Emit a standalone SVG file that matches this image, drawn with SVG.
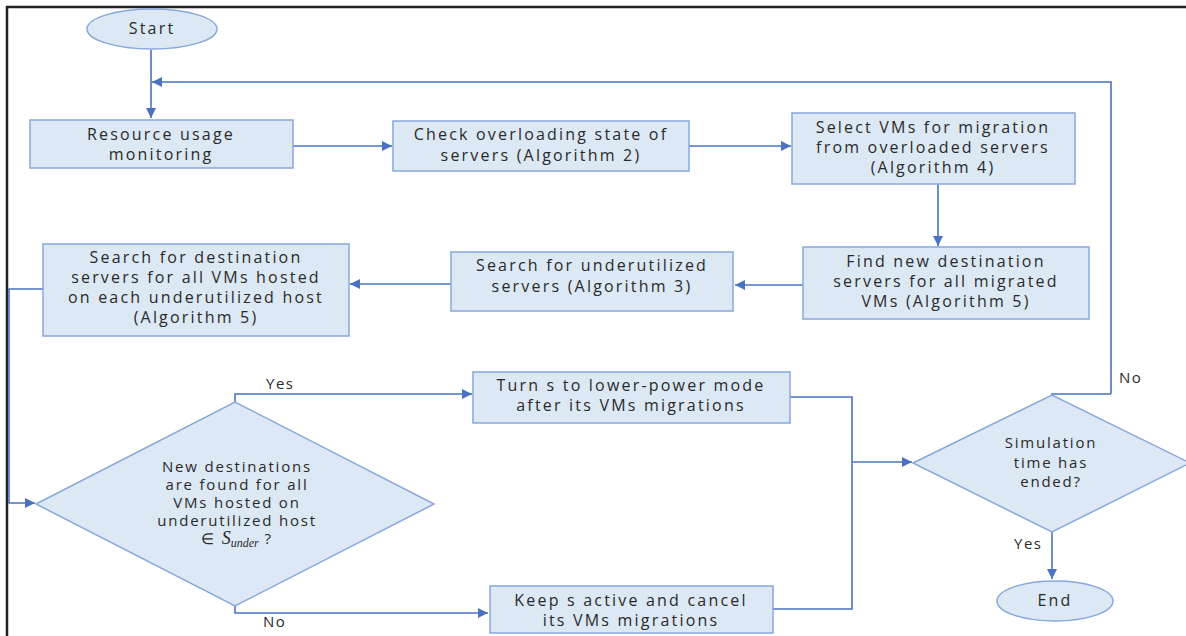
<svg xmlns="http://www.w3.org/2000/svg" width="1186" height="636" viewBox="0 0 1186 636">
  <style>
    .box { fill: #dde8f5; stroke: #86a8dc; stroke-width: 1.5; }
    .wire { fill: none; stroke: #4a72c0; stroke-width: 1.6; }
    .t { font-family: "Open Sans", "Liberation Sans", sans-serif; font-size: 16px; fill: #2a2a2a; text-anchor: middle; letter-spacing: 2.2px; }
    .d { font-size: 15px; letter-spacing: 1.8px; }
    .lbl { font-family: "Open Sans", "Liberation Sans", sans-serif; font-size: 15px; fill: #2a2a2a; letter-spacing: 1.5px; }
    .m { font-family: "Liberation Serif", serif; font-style: italic; letter-spacing: 0; }
  </style>
  <defs>
    <marker id="arr" viewBox="0 0 10 10" refX="10" refY="5" markerWidth="10" markerHeight="10" markerUnits="userSpaceOnUse" orient="auto">
      <path d="M0,0 L10,5 L0,10 z" fill="#4a72c0"/>
    </marker>
  </defs>

  <rect width="1186" height="636" fill="#fff"/>
  <!-- page frame -->
  <path d="M7,636 V7 H1186" fill="none" stroke="#222" stroke-width="2.5"/>

  <g id="connectors">
    <path class="wire" d="M151,50 V118" marker-end="url(#arr)"/>
    <path class="wire" d="M1111,394 V82 H152" marker-end="url(#arr)"/>
    <path class="wire" d="M1052,395 V394 H1111"/>
    <path class="wire" d="M293,146 H392" marker-end="url(#arr)"/>
    <path class="wire" d="M689,146 H791" marker-end="url(#arr)"/>
    <path class="wire" d="M938,184 V246" marker-end="url(#arr)"/>
    <path class="wire" d="M803,285 H735" marker-end="url(#arr)"/>
    <path class="wire" d="M451,284 H350" marker-end="url(#arr)"/>
    <path class="wire" d="M43,289 H9 V503 H35" marker-end="url(#arr)"/>
    <path class="wire" d="M235,402 V394 H472" marker-end="url(#arr)"/>
    <path class="wire" d="M235,606 V613 H488" marker-end="url(#arr)"/>
    <path class="wire" d="M790,397 H852 V609 H773"/>
    <path class="wire" d="M852,462 H912" marker-end="url(#arr)"/>
    <path class="wire" d="M1052,532 V579" marker-end="url(#arr)"/>
  </g>

  <g id="start">
    <ellipse class="box" cx="152" cy="29" rx="65" ry="20"/>
    <text class="t" x="152" y="34">Start</text>
  </g>

  <g id="monitor">
    <rect class="box" x="30" y="120" width="263" height="48"/>
    <text class="t" x="161" y="140">Resource usage</text>
    <text class="t" x="161" y="160">monitoring</text>
  </g>

  <g id="check-overload">
    <rect class="box" x="393" y="121" width="296" height="50"/>
    <text class="t" x="541" y="140">Check overloading state of</text>
    <text class="t" x="541" y="161">servers (Algorithm 2)</text>
  </g>

  <g id="select-vms">
    <rect class="box" x="792" y="113" width="283" height="71"/>
    <text class="t" x="933" y="133">Select VMs for migration</text>
    <text class="t" x="933" y="153">from overloaded servers</text>
    <text class="t" x="933" y="173">(Algorithm 4)</text>
  </g>

  <g id="find-dest">
    <rect class="box" x="803" y="247" width="286" height="72"/>
    <text class="t" x="946" y="267">Find new destination</text>
    <text class="t" x="946" y="287">servers for all migrated</text>
    <text class="t" x="946" y="307">VMs (Algorithm 5)</text>
  </g>

  <g id="search-under">
    <rect class="box" x="451" y="252" width="282" height="59"/>
    <text class="t" x="592" y="271">Search for underutilized</text>
    <text class="t" x="592" y="292">servers (Algorithm 3)</text>
  </g>

  <g id="search-dest">
    <rect class="box" x="43" y="244" width="306" height="92"/>
    <text class="t" x="196" y="263">Search for destination</text>
    <text class="t" x="196" y="283">servers for all VMs hosted</text>
    <text class="t" x="196" y="303">on each underutilized host</text>
    <text class="t" x="196" y="323">(Algorithm 5)</text>
  </g>

  <g id="dest-found">
    <polygon class="box" points="36,504 235,402 434,504 235,606"/>
    <text class="t d" x="237" y="472">New destinations</text>
    <text class="t d" x="237" y="490">are found for all</text>
    <text class="t d" x="237" y="508">VMs hosted on</text>
    <text class="t d" x="237" y="526">underutilized host</text>
    <text class="t d" x="237" y="544">∈ <tspan class="m" font-size="18">S</tspan><tspan class="m" font-size="12" dy="3">under</tspan><tspan dy="-3"> ?</tspan></text>
  </g>
  <text class="lbl" x="266" y="389">Yes</text>
  <text class="lbl" x="263" y="627">No</text>

  <g id="low-power">
    <rect class="box" x="473" y="372" width="317" height="51"/>
    <text class="t" x="631" y="391">Turn s to lower-power mode</text>
    <text class="t" x="631" y="411">after its VMs migrations</text>
  </g>

  <g id="keep-active">
    <rect class="box" x="490" y="586" width="283" height="47"/>
    <text class="t" x="631" y="606">Keep s active and cancel</text>
    <text class="t" x="631" y="626">its VMs migrations</text>
  </g>

  <g id="sim-ended">
    <polygon class="box" points="913,463 1052,395 1190,463 1052,532"/>
    <text class="t d" x="1051" y="448">Simulation</text>
    <text class="t d" x="1051" y="468">time has</text>
    <text class="t d" x="1051" y="487">ended?</text>
  </g>
  <text class="lbl" x="1119" y="383">No</text>
  <text class="lbl" x="1014" y="549">Yes</text>

  <g id="end">
    <ellipse class="box" cx="1055" cy="601" rx="58" ry="20"/>
    <text class="t" x="1055" y="606">End</text>
  </g>
</svg>
